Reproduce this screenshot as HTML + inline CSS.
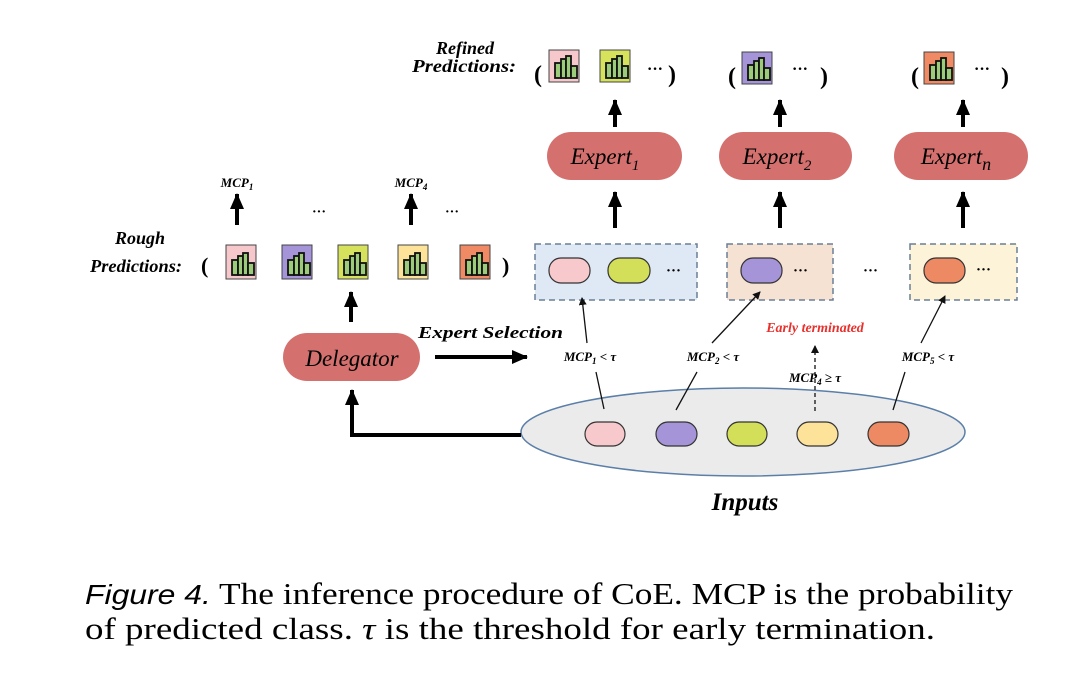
<!DOCTYPE html>
<html><head><meta charset="utf-8"><style>
html,body{margin:0;padding:0;background:#fff;}
svg{display:block;}
text{font-family:"Liberation Serif",serif;}
</style></head><body>
<svg width="1080" height="687" viewBox="0 0 1080 687" xmlns="http://www.w3.org/2000/svg">
<defs>
<marker id="ah" markerWidth="8" markerHeight="8" refX="7" refY="4" orient="auto" markerUnits="userSpaceOnUse"><path d="M0,0 L8,4 L0,8 z" fill="#111"/></marker>
<marker id="ahb" markerWidth="16" markerHeight="14" refX="15" refY="7" orient="auto" markerUnits="userSpaceOnUse"><path d="M0,0 L16,7 L0,14 z" fill="#000"/></marker>
<g id="bars">
<rect x="4" y="10" width="6" height="15" fill="#9ccc7a" stroke="#111" stroke-width="1.8"/>
<rect x="10" y="6" width="5" height="19" fill="#9ccc7a" stroke="#111" stroke-width="1.8"/>
<rect x="15" y="3" width="5" height="22" fill="#9ccc7a" stroke="#111" stroke-width="1.8"/>
<rect x="20" y="13" width="6" height="12" fill="#9ccc7a" stroke="#111" stroke-width="1.8"/>
</g>
</defs>

<text x="465" y="54" font-size="18" font-weight="bold" font-style="italic" text-anchor="middle">Refined</text>
<text x="412" y="72" font-size="18" font-weight="bold" font-style="italic" textLength="104" lengthAdjust="spacingAndGlyphs">Predictions:</text>
<text x="534" y="82" font-size="24" font-weight="bold">(</text>
<rect x="549" y="50" width="30" height="32" fill="#f6c8cc" stroke="#444"/><use href="#bars" x="551" y="53"/>
<rect x="600" y="50" width="30" height="32" fill="#d6e25c" stroke="#444"/><use href="#bars" x="602" y="53"/>
<text x="647" y="74" font-size="16" font-weight="bold">···</text>
<text x="668" y="82" font-size="24" font-weight="bold">)</text>
<text x="728" y="84" font-size="24" font-weight="bold">(</text>
<rect x="742" y="52" width="30" height="32" fill="#a595d8" stroke="#444"/><use href="#bars" x="744" y="55"/>
<text x="792" y="74" font-size="16" font-weight="bold">···</text>
<text x="820" y="84" font-size="24" font-weight="bold">)</text>
<text x="911" y="84" font-size="24" font-weight="bold">(</text>
<rect x="924" y="52" width="30" height="32" fill="#ef8a64" stroke="#444"/><use href="#bars" x="926" y="55"/>
<text x="974" y="74" font-size="16" font-weight="bold">···</text>
<text x="1001" y="84" font-size="24" font-weight="bold">)</text>

<g stroke="#000" stroke-width="4" marker-end="url(#ahb)">
<line x1="615" y1="127" x2="615" y2="100"/>
<line x1="780" y1="127" x2="780" y2="100"/>
<line x1="963" y1="127" x2="963" y2="100"/>
<line x1="615" y1="228" x2="615" y2="192"/>
<line x1="780" y1="228" x2="780" y2="192"/>
<line x1="963" y1="228" x2="963" y2="192"/>
<line x1="237" y1="225" x2="237" y2="194"/>
<line x1="411" y1="225" x2="411" y2="194"/>
<line x1="351" y1="322" x2="351" y2="292"/>
<line x1="435" y1="357" x2="527" y2="357"/>
</g>

<rect x="547" y="132" width="135" height="48" rx="24" fill="#d4716f"/>
<text x="605" y="164" font-size="23" font-style="italic" text-anchor="middle">Expert<tspan font-size="15" dy="6">1</tspan></text>
<rect x="719" y="132" width="133" height="48" rx="24" fill="#d4716f"/>
<text x="777" y="164" font-size="23" font-style="italic" text-anchor="middle">Expert<tspan font-size="15" dy="6">2</tspan></text>
<rect x="894" y="132" width="134" height="48" rx="24" fill="#d4716f"/>
<text x="956" y="164" font-size="23" font-style="italic" text-anchor="middle">Expert<tspan font-size="18" dy="6">n</tspan></text>

<rect x="535" y="244" width="162" height="56" fill="#dfe9f5" stroke="#6a7f95" stroke-width="1.5" stroke-dasharray="6,4"/>
<rect x="727" y="244" width="106" height="56" fill="#f6e2d3" stroke="#6a7f95" stroke-width="1.5" stroke-dasharray="6,4"/>
<rect x="910" y="244" width="107" height="56" fill="#fdf3d8" stroke="#6a7f95" stroke-width="1.5" stroke-dasharray="6,4"/>
<g stroke="#333" stroke-width="1.2">
<rect x="549" y="258" width="41" height="25" rx="12" fill="#f7c9cc"/>
<rect x="608" y="258" width="42" height="25" rx="12" fill="#d3df58"/>
<rect x="741" y="258" width="41" height="25" rx="12" fill="#a595d8"/>
<rect x="924" y="258" width="41" height="25" rx="12" fill="#ee8a63"/>
</g>
<text x="666" y="275" font-size="15" font-weight="bold">···</text>
<text x="793" y="275" font-size="15" font-weight="bold">···</text>
<text x="863" y="275" font-size="15" font-weight="bold">···</text>
<text x="976" y="274" font-size="15" font-weight="bold">···</text>

<text x="140" y="244" font-size="18" font-weight="bold" font-style="italic" text-anchor="middle">Rough</text>
<text x="90" y="272" font-size="18" font-weight="bold" font-style="italic" textLength="92" lengthAdjust="spacingAndGlyphs">Predictions:</text>
<text x="201" y="273" font-size="22" font-weight="bold">(</text>
<rect x="226" y="245" width="30" height="34" fill="#f6c8cc" stroke="#444"/><use href="#bars" x="228" y="250"/>
<rect x="282" y="245" width="30" height="34" fill="#a595d8" stroke="#444"/><use href="#bars" x="284" y="250"/>
<rect x="338" y="245" width="30" height="34" fill="#d6e25c" stroke="#444"/><use href="#bars" x="340" y="250"/>
<rect x="398" y="245" width="30" height="34" fill="#fde39a" stroke="#444"/><use href="#bars" x="400" y="250"/>
<rect x="460" y="245" width="30" height="34" fill="#ef8a64" stroke="#444"/><use href="#bars" x="462" y="250"/>
<text x="502" y="273" font-size="22" font-weight="bold">)</text>
<text x="237" y="187" font-size="13" font-weight="bold" font-style="italic" text-anchor="middle">MCP<tspan font-size="9" dy="3">1</tspan></text>
<text x="411" y="187" font-size="13" font-weight="bold" font-style="italic" text-anchor="middle">MCP<tspan font-size="9" dy="3">4</tspan></text>
<text x="312" y="216" font-size="14" font-weight="bold">···</text>
<text x="445" y="216" font-size="14" font-weight="bold">···</text>

<rect x="283" y="333" width="137" height="48" rx="24" fill="#d4716f"/>
<text x="352" y="366" font-size="23" font-style="italic" text-anchor="middle">Delegator</text>
<text x="418" y="338" font-size="17" font-weight="bold" font-style="italic" textLength="145" lengthAdjust="spacingAndGlyphs">Expert  Selection</text>

<ellipse cx="743" cy="432" rx="222" ry="44" fill="#ebebeb" stroke="#5b7fa8" stroke-width="1.5"/>
<polyline points="521,435 352,435 352,390" fill="none" stroke="#000" stroke-width="4" marker-end="url(#ahb)"/>
<g stroke="#333" stroke-width="1.2">
<rect x="585" y="422" width="40" height="24" rx="12" fill="#f7c9cc"/>
<rect x="656" y="422" width="41" height="24" rx="12" fill="#a595d8"/>
<rect x="727" y="422" width="40" height="24" rx="12" fill="#d3df58"/>
<rect x="797" y="422" width="41" height="24" rx="12" fill="#fde39a"/>
<rect x="868" y="422" width="41" height="24" rx="12" fill="#ee8a63"/>
</g>
<text x="745" y="510" font-size="25" font-weight="bold" font-style="italic" text-anchor="middle">Inputs</text>

<g stroke="#111" stroke-width="1.3" fill="none">
<line x1="604" y1="409" x2="596" y2="372"/>
<line x1="587" y1="343" x2="582" y2="298" marker-end="url(#ah)"/>
<line x1="676" y1="410" x2="697" y2="372"/>
<line x1="712" y1="343" x2="760" y2="292" marker-end="url(#ah)"/>
<line x1="893" y1="410" x2="905" y2="372"/>
<line x1="921" y1="343" x2="945" y2="296" marker-end="url(#ah)"/>
<line x1="815" y1="411" x2="815" y2="346" stroke-dasharray="4,3" marker-end="url(#ah)"/>
</g>
<text x="590" y="361" font-size="13" font-weight="bold" font-style="italic" text-anchor="middle">MCP<tspan font-size="9" dy="3">1</tspan><tspan dy="-3"> &lt; τ</tspan></text>
<text x="713" y="361" font-size="13" font-weight="bold" font-style="italic" text-anchor="middle">MCP<tspan font-size="9" dy="3">2</tspan><tspan dy="-3"> &lt; τ</tspan></text>
<text x="815" y="382" font-size="13" font-weight="bold" font-style="italic" text-anchor="middle">MCP<tspan font-size="9" dy="3">4</tspan><tspan dy="-3"> ≥ τ</tspan></text>
<text x="928" y="361" font-size="13" font-weight="bold" font-style="italic" text-anchor="middle">MCP<tspan font-size="9" dy="3">5</tspan><tspan dy="-3"> &lt; τ</tspan></text>
<text x="815" y="332" font-size="14" font-weight="bold" font-style="italic" fill="#e8302c" text-anchor="middle">Early terminated</text>

<text x="85" y="604" font-size="31" textLength="928" lengthAdjust="spacingAndGlyphs"><tspan font-family="Liberation Sans, sans-serif" font-style="italic" font-size="28">Figure 4.</tspan> The inference procedure of CoE. MCP is the probability</text>
<text x="85" y="639" font-size="31" textLength="850" lengthAdjust="spacingAndGlyphs">of predicted class. <tspan font-style="italic">τ</tspan> is the threshold for early termination.</text>
</svg>
</body></html>
